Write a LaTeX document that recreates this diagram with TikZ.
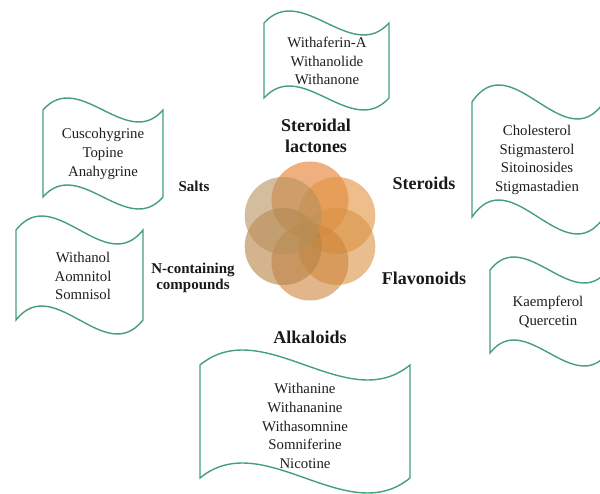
\documentclass[tikz,border=0pt]{standalone}
\usepackage{fontspec}
\setmainfont{Liberation Serif}
\definecolor{flaggreen}{HTML}{45A078}
\definecolor{cTop}{HTML}{E47A2A}
\definecolor{cUR}{HTML}{E1933F}
\definecolor{cLR}{HTML}{DA9343}
\definecolor{cBot}{HTML}{CF853C}
\definecolor{cLL}{HTML}{B68244}
\definecolor{cUL}{HTML}{B6915D}
\newcommand\wflag[5]{%
  \draw[flagline] (#1,#2) .. controls ({#1+0.3*#3},{#2-3.46*#5}) and ({#1+0.7*#3},{#2+3.46*#5}) .. ({#1+#3},#2)
    -- ({#1+#3},{#2+#4}) .. controls ({#1+0.7*#3},{#2+#4+3.46*#5}) and ({#1+0.3*#3},{#2+#4-3.46*#5}) .. (#1,{#2+#4}) -- cycle;}
\begin{document}
\begin{tikzpicture}[x=1pt,y=-1pt,
  flagline/.style={draw=flaggreen, line width=1.4pt, fill=white},
  item/.style={align=center, font=\fontsize{14.8}{18.8}\selectfont, text=black!88, inner sep=0pt},
  cat/.style={align=center, font=\fontsize{18}{20.5}\selectfont\bfseries, text=black!90, inner sep=0pt},
  catsmall/.style={align=center, font=\fontsize{15}{16.5}\selectfont\bfseries, text=black!90, inner sep=0pt},
  petal/.style={fill opacity=0.6, draw=none}]
\useasboundingbox (0,0) rectangle (600,494);
\clip (0,0) rectangle (600,494);
% flags
\wflag{264}{23}{125}{75}{12}
\wflag{43}{110}{120}{87}{12}
\wflag{16}{230}{127}{90}{14}
\wflag{472}{102}{132}{115}{17}
\wflag{490}{270}{118}{83}{13}
\wflag{200}{365}{210}{113}{15}
% flower
\fill[petal, cTop] (310,200) circle (38.5);
\fill[petal, cUR] (336.8,215.5) circle (38.5);
\fill[petal, cLR] (336.8,246.5) circle (38.5);
\fill[petal, cBot] (310,262) circle (38.5);
\fill[petal, cLL] (283.2,246.5) circle (38.5);
\fill[petal, cUL] (283.2,215.5) circle (38.5);
% items
\node[item] (lact) at (327,61) {Withaferin-A\\Withanolide\\Withanone};
\node[item] (salt) at (103,154) {Cuscohygrine\\Topine\\Anahygrine};
\node[item] (ncomp) at (83,276) {Withanol\\Aomnitol\\Somnisol};
\node[item] (ster) at (537,160) {Cholesterol\\Stigmasterol\\Sitoinosides\\Stigmastadien};
\node[item] (flav) at (548,312) {Kaempferol\\Quercetin};
\node[item] (alk) at (305,426) {Withanine\\Withananine\\Withasomnine\\Somniferine\\Nicotine};
% categories
\node[cat] (clact) at (316,136) {Steroidal\\lactones};
\node[catsmall] (csalt) at (194,186) {Salts};
\node[catsmall] (cncomp) at (193,278) {N-containing\\compounds};
\node[cat] (cster) at (424,183) {Steroids};
\node[cat] (cflav) at (424,278) {Flavonoids};
\node[cat] (calk) at (310,337) {Alkaloids};
\end{tikzpicture}
\end{document}
